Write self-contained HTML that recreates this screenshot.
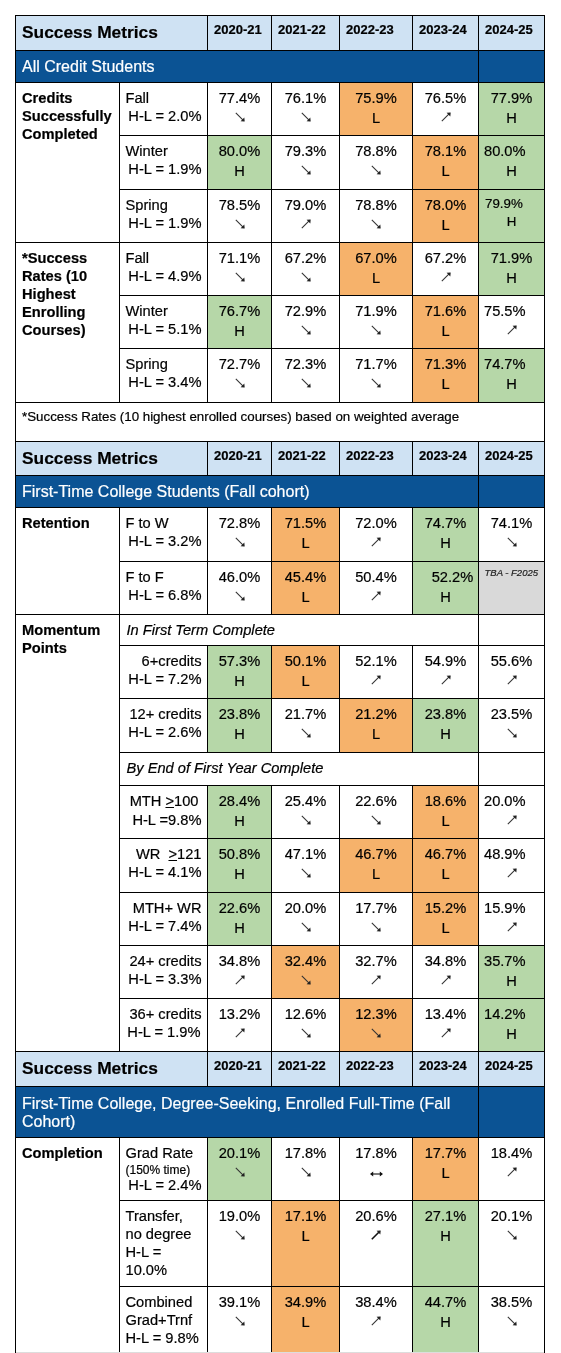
<!DOCTYPE html>
<html><head><meta charset="utf-8"><style>
html,body{margin:0;padding:0;background:#fff;}
body{width:561px;height:1353px;position:relative;overflow:hidden;font-family:'Liberation Sans', sans-serif;color:#000;}
.r{position:absolute;}
.t{position:absolute;white-space:pre;line-height:20px;-webkit-text-stroke:0.2px currentColor;}
#w{position:absolute;left:0;top:0;width:561px;height:1353px;will-change:transform;background:#fff;}
u{text-decoration:underline;}
</style></head><body><div id="w">
<div class="r" style="left:15px;top:15px;width:529px;height:35px;background:#cfe2f3"></div>
<div class="t" style="top:22px;font-size:17.33px;font-weight:bold;left:22px;">Success Metrics</div>
<div class="t" style="top:20px;font-size:13px;font-weight:bold;left:214px;">2020-21</div>
<div class="t" style="top:20px;font-size:13px;font-weight:bold;left:278px;">2021-22</div>
<div class="t" style="top:20px;font-size:13px;font-weight:bold;left:346px;">2022-23</div>
<div class="t" style="top:20px;font-size:13px;font-weight:bold;left:419px;">2023-24</div>
<div class="t" style="top:20px;font-size:13px;font-weight:bold;left:485px;">2024-25</div>
<div class="r" style="left:15px;top:50px;width:529px;height:32px;background:#0b5394"></div>
<div class="t" style="top:57px;font-size:16px;color:#fff;left:22px;">All Credit Students</div>
<div class="r" style="left:340px;top:83px;width:72px;height:52px;background:#f6b26b"></div>
<div class="r" style="left:479px;top:83px;width:65px;height:52px;background:#b6d7a8"></div>
<div class="t" style="top:88px;font-size:14.67px;left:89.5px;width:300px;text-align:center;">77.4%</div>
<svg class="r" style="left:233.5px;top:111.2px" width="12" height="12" viewBox="0 0 12 12"><path d="M1.8 1.8 L9.8 9.8" stroke="#333" stroke-width="1.1" fill="none"/><path d="M10.7 10.6 L6.6 10.2 L8.4 8.4 L10.3 6.5 Z" fill="#222"/></svg>
<div class="t" style="top:88px;font-size:14.67px;left:155.5px;width:300px;text-align:center;">76.1%</div>
<svg class="r" style="left:299.5px;top:111.2px" width="12" height="12" viewBox="0 0 12 12"><path d="M1.8 1.8 L9.8 9.8" stroke="#333" stroke-width="1.1" fill="none"/><path d="M10.7 10.6 L6.6 10.2 L8.4 8.4 L10.3 6.5 Z" fill="#222"/></svg>
<div class="t" style="top:88px;font-size:14.67px;left:226.0px;width:300px;text-align:center;">75.9%</div>
<div class="t" style="top:107.7px;font-size:14.67px;left:226.0px;width:300px;text-align:center;">L</div>
<div class="t" style="top:88px;font-size:14.67px;left:295.5px;width:300px;text-align:center;">76.5%</div>
<svg class="r" style="left:439.5px;top:111.2px" width="12" height="12" viewBox="0 0 12 12"><path d="M1.8 10.2 L9.8 2.2" stroke="#333" stroke-width="1.1" fill="none"/><path d="M10.7 1.4 L6.6 1.8 L10.3 5.5 Z" fill="#222"/></svg>
<div class="t" style="top:88px;font-size:14.67px;left:361.5px;width:300px;text-align:center;">77.9%</div>
<div class="t" style="top:107.7px;font-size:14.67px;left:361.5px;width:300px;text-align:center;">H</div>
<div class="t" style="top:87.5px;font-size:14.67px;left:125.5px;">Fall</div>
<div class="t" style="top:105.5px;font-size:14.67px;left:-98.5px;width:300px;text-align:right;">H-L = 2.0%</div>
<div class="r" style="left:208px;top:136px;width:63px;height:53px;background:#b6d7a8"></div>
<div class="r" style="left:413px;top:136px;width:65px;height:53px;background:#f6b26b"></div>
<div class="r" style="left:479px;top:136px;width:65px;height:53px;background:#b6d7a8"></div>
<div class="t" style="top:141px;font-size:14.67px;left:89.5px;width:300px;text-align:center;">80.0%</div>
<div class="t" style="top:160.7px;font-size:14.67px;left:89.5px;width:300px;text-align:center;">H</div>
<div class="t" style="top:141px;font-size:14.67px;left:155.5px;width:300px;text-align:center;">79.3%</div>
<svg class="r" style="left:299.5px;top:164.2px" width="12" height="12" viewBox="0 0 12 12"><path d="M1.8 1.8 L9.8 9.8" stroke="#333" stroke-width="1.1" fill="none"/><path d="M10.7 10.6 L6.6 10.2 L8.4 8.4 L10.3 6.5 Z" fill="#222"/></svg>
<div class="t" style="top:141px;font-size:14.67px;left:226.0px;width:300px;text-align:center;">78.8%</div>
<svg class="r" style="left:370.0px;top:164.2px" width="12" height="12" viewBox="0 0 12 12"><path d="M1.8 1.8 L9.8 9.8" stroke="#333" stroke-width="1.1" fill="none"/><path d="M10.7 10.6 L6.6 10.2 L8.4 8.4 L10.3 6.5 Z" fill="#222"/></svg>
<div class="t" style="top:141px;font-size:14.67px;left:295.5px;width:300px;text-align:center;">78.1%</div>
<div class="t" style="top:160.7px;font-size:14.67px;left:295.5px;width:300px;text-align:center;">L</div>
<div class="t" style="top:141px;font-size:14.67px;left:484px;">80.0%</div>
<div class="t" style="top:160.7px;font-size:14.67px;left:361.5px;width:300px;text-align:center;">H</div>
<div class="t" style="top:140.5px;font-size:14.67px;left:125.5px;">Winter</div>
<div class="t" style="top:158.5px;font-size:14.67px;left:-98.5px;width:300px;text-align:right;">H-L = 1.9%</div>
<div class="r" style="left:413px;top:190px;width:65px;height:52px;background:#f6b26b"></div>
<div class="r" style="left:479px;top:190px;width:65px;height:52px;background:#b6d7a8"></div>
<div class="t" style="top:195px;font-size:14.67px;left:89.5px;width:300px;text-align:center;">78.5%</div>
<svg class="r" style="left:233.5px;top:218.2px" width="12" height="12" viewBox="0 0 12 12"><path d="M1.8 1.8 L9.8 9.8" stroke="#333" stroke-width="1.1" fill="none"/><path d="M10.7 10.6 L6.6 10.2 L8.4 8.4 L10.3 6.5 Z" fill="#222"/></svg>
<div class="t" style="top:195px;font-size:14.67px;left:155.5px;width:300px;text-align:center;">79.0%</div>
<svg class="r" style="left:299.5px;top:218.2px" width="12" height="12" viewBox="0 0 12 12"><path d="M1.8 10.2 L9.8 2.2" stroke="#333" stroke-width="1.1" fill="none"/><path d="M10.7 1.4 L6.6 1.8 L10.3 5.5 Z" fill="#222"/></svg>
<div class="t" style="top:195px;font-size:14.67px;left:226.0px;width:300px;text-align:center;">78.8%</div>
<svg class="r" style="left:370.0px;top:218.2px" width="12" height="12" viewBox="0 0 12 12"><path d="M1.8 1.8 L9.8 9.8" stroke="#333" stroke-width="1.1" fill="none"/><path d="M10.7 10.6 L6.6 10.2 L8.4 8.4 L10.3 6.5 Z" fill="#222"/></svg>
<div class="t" style="top:195px;font-size:14.67px;left:295.5px;width:300px;text-align:center;">78.0%</div>
<div class="t" style="top:214.7px;font-size:14.67px;left:295.5px;width:300px;text-align:center;">L</div>
<div class="t" style="top:194px;font-size:13.33px;left:485px;">79.9%</div>
<div class="t" style="top:211.7px;font-size:13.33px;left:361.5px;width:300px;text-align:center;">H</div>
<div class="t" style="top:194.5px;font-size:14.67px;left:125.5px;">Spring</div>
<div class="t" style="top:212.5px;font-size:14.67px;left:-98.5px;width:300px;text-align:right;">H-L = 1.9%</div>
<div class="r" style="left:340px;top:243px;width:72px;height:52px;background:#f6b26b"></div>
<div class="r" style="left:479px;top:243px;width:65px;height:52px;background:#b6d7a8"></div>
<div class="t" style="top:248px;font-size:14.67px;left:89.5px;width:300px;text-align:center;">71.1%</div>
<svg class="r" style="left:233.5px;top:271.2px" width="12" height="12" viewBox="0 0 12 12"><path d="M1.8 1.8 L9.8 9.8" stroke="#333" stroke-width="1.1" fill="none"/><path d="M10.7 10.6 L6.6 10.2 L8.4 8.4 L10.3 6.5 Z" fill="#222"/></svg>
<div class="t" style="top:248px;font-size:14.67px;left:155.5px;width:300px;text-align:center;">67.2%</div>
<svg class="r" style="left:299.5px;top:271.2px" width="12" height="12" viewBox="0 0 12 12"><path d="M1.8 1.8 L9.8 9.8" stroke="#333" stroke-width="1.1" fill="none"/><path d="M10.7 10.6 L6.6 10.2 L8.4 8.4 L10.3 6.5 Z" fill="#222"/></svg>
<div class="t" style="top:248px;font-size:14.67px;left:226.0px;width:300px;text-align:center;">67.0%</div>
<div class="t" style="top:267.7px;font-size:14.67px;left:226.0px;width:300px;text-align:center;">L</div>
<div class="t" style="top:248px;font-size:14.67px;left:295.5px;width:300px;text-align:center;">67.2%</div>
<svg class="r" style="left:439.5px;top:271.2px" width="12" height="12" viewBox="0 0 12 12"><path d="M1.8 10.2 L9.8 2.2" stroke="#333" stroke-width="1.1" fill="none"/><path d="M10.7 1.4 L6.6 1.8 L10.3 5.5 Z" fill="#222"/></svg>
<div class="t" style="top:248px;font-size:14.67px;left:361.5px;width:300px;text-align:center;">71.9%</div>
<div class="t" style="top:267.7px;font-size:14.67px;left:361.5px;width:300px;text-align:center;">H</div>
<div class="t" style="top:247.5px;font-size:14.67px;left:125.5px;">Fall</div>
<div class="t" style="top:265.5px;font-size:14.67px;left:-98.5px;width:300px;text-align:right;">H-L = 4.9%</div>
<div class="r" style="left:208px;top:296px;width:63px;height:52px;background:#b6d7a8"></div>
<div class="r" style="left:413px;top:296px;width:65px;height:52px;background:#f6b26b"></div>
<div class="t" style="top:301px;font-size:14.67px;left:89.5px;width:300px;text-align:center;">76.7%</div>
<div class="t" style="top:320.7px;font-size:14.67px;left:89.5px;width:300px;text-align:center;">H</div>
<div class="t" style="top:301px;font-size:14.67px;left:155.5px;width:300px;text-align:center;">72.9%</div>
<svg class="r" style="left:299.5px;top:324.2px" width="12" height="12" viewBox="0 0 12 12"><path d="M1.8 1.8 L9.8 9.8" stroke="#333" stroke-width="1.1" fill="none"/><path d="M10.7 10.6 L6.6 10.2 L8.4 8.4 L10.3 6.5 Z" fill="#222"/></svg>
<div class="t" style="top:301px;font-size:14.67px;left:226.0px;width:300px;text-align:center;">71.9%</div>
<svg class="r" style="left:370.0px;top:324.2px" width="12" height="12" viewBox="0 0 12 12"><path d="M1.8 1.8 L9.8 9.8" stroke="#333" stroke-width="1.1" fill="none"/><path d="M10.7 10.6 L6.6 10.2 L8.4 8.4 L10.3 6.5 Z" fill="#222"/></svg>
<div class="t" style="top:301px;font-size:14.67px;left:295.5px;width:300px;text-align:center;">71.6%</div>
<div class="t" style="top:320.7px;font-size:14.67px;left:295.5px;width:300px;text-align:center;">L</div>
<div class="t" style="top:301px;font-size:14.67px;left:484px;">75.5%</div>
<svg class="r" style="left:505.5px;top:324.2px" width="12" height="12" viewBox="0 0 12 12"><path d="M1.8 10.2 L9.8 2.2" stroke="#333" stroke-width="1.1" fill="none"/><path d="M10.7 1.4 L6.6 1.8 L10.3 5.5 Z" fill="#222"/></svg>
<div class="t" style="top:300.5px;font-size:14.67px;left:125.5px;">Winter</div>
<div class="t" style="top:318.5px;font-size:14.67px;left:-98.5px;width:300px;text-align:right;">H-L = 5.1%</div>
<div class="r" style="left:413px;top:349px;width:65px;height:53px;background:#f6b26b"></div>
<div class="r" style="left:479px;top:349px;width:65px;height:53px;background:#b6d7a8"></div>
<div class="t" style="top:354px;font-size:14.67px;left:89.5px;width:300px;text-align:center;">72.7%</div>
<svg class="r" style="left:233.5px;top:377.2px" width="12" height="12" viewBox="0 0 12 12"><path d="M1.8 1.8 L9.8 9.8" stroke="#333" stroke-width="1.1" fill="none"/><path d="M10.7 10.6 L6.6 10.2 L8.4 8.4 L10.3 6.5 Z" fill="#222"/></svg>
<div class="t" style="top:354px;font-size:14.67px;left:155.5px;width:300px;text-align:center;">72.3%</div>
<svg class="r" style="left:299.5px;top:377.2px" width="12" height="12" viewBox="0 0 12 12"><path d="M1.8 1.8 L9.8 9.8" stroke="#333" stroke-width="1.1" fill="none"/><path d="M10.7 10.6 L6.6 10.2 L8.4 8.4 L10.3 6.5 Z" fill="#222"/></svg>
<div class="t" style="top:354px;font-size:14.67px;left:226.0px;width:300px;text-align:center;">71.7%</div>
<svg class="r" style="left:370.0px;top:377.2px" width="12" height="12" viewBox="0 0 12 12"><path d="M1.8 1.8 L9.8 9.8" stroke="#333" stroke-width="1.1" fill="none"/><path d="M10.7 10.6 L6.6 10.2 L8.4 8.4 L10.3 6.5 Z" fill="#222"/></svg>
<div class="t" style="top:354px;font-size:14.67px;left:295.5px;width:300px;text-align:center;">71.3%</div>
<div class="t" style="top:373.7px;font-size:14.67px;left:295.5px;width:300px;text-align:center;">L</div>
<div class="t" style="top:354px;font-size:14.67px;left:484px;">74.7%</div>
<div class="t" style="top:373.7px;font-size:14.67px;left:361.5px;width:300px;text-align:center;">H</div>
<div class="t" style="top:353.5px;font-size:14.67px;left:125.5px;">Spring</div>
<div class="t" style="top:371.5px;font-size:14.67px;left:-98.5px;width:300px;text-align:right;">H-L = 3.4%</div>
<div class="t" style="top:87.5px;font-size:14.67px;font-weight:bold;left:22px;">Credits</div>
<div class="t" style="top:105.5px;font-size:14.67px;font-weight:bold;left:22px;">Successfully</div>
<div class="t" style="top:123.5px;font-size:14.67px;font-weight:bold;left:22px;">Completed</div>
<div class="t" style="top:247.5px;font-size:14.67px;font-weight:bold;left:22px;">*Success</div>
<div class="t" style="top:265.5px;font-size:14.67px;font-weight:bold;left:22px;">Rates (10</div>
<div class="t" style="top:283.5px;font-size:14.67px;font-weight:bold;left:22px;">Highest</div>
<div class="t" style="top:301.5px;font-size:14.67px;font-weight:bold;left:22px;">Enrolling</div>
<div class="t" style="top:319.5px;font-size:14.67px;font-weight:bold;left:22px;">Courses)</div>
<div class="t" style="top:407px;font-size:13.33px;left:22px;">*Success Rates (10 highest enrolled courses) based on weighted average</div>
<div class="r" style="left:15px;top:441px;width:529px;height:34px;background:#cfe2f3"></div>
<div class="t" style="top:448px;font-size:17.33px;font-weight:bold;left:22px;">Success Metrics</div>
<div class="t" style="top:446px;font-size:13px;font-weight:bold;left:214px;">2020-21</div>
<div class="t" style="top:446px;font-size:13px;font-weight:bold;left:278px;">2021-22</div>
<div class="t" style="top:446px;font-size:13px;font-weight:bold;left:346px;">2022-23</div>
<div class="t" style="top:446px;font-size:13px;font-weight:bold;left:419px;">2023-24</div>
<div class="t" style="top:446px;font-size:13px;font-weight:bold;left:485px;">2024-25</div>
<div class="r" style="left:15px;top:475px;width:529px;height:32px;background:#0b5394"></div>
<div class="t" style="top:482px;font-size:16px;color:#fff;left:22px;">First-Time College Students (Fall cohort)</div>
<div class="r" style="left:272px;top:508px;width:67px;height:53px;background:#f6b26b"></div>
<div class="r" style="left:413px;top:508px;width:65px;height:53px;background:#b6d7a8"></div>
<div class="t" style="top:513px;font-size:14.67px;left:89.5px;width:300px;text-align:center;">72.8%</div>
<svg class="r" style="left:233.5px;top:536.2px" width="12" height="12" viewBox="0 0 12 12"><path d="M1.8 1.8 L9.8 9.8" stroke="#333" stroke-width="1.1" fill="none"/><path d="M10.7 10.6 L6.6 10.2 L8.4 8.4 L10.3 6.5 Z" fill="#222"/></svg>
<div class="t" style="top:513px;font-size:14.67px;left:155.5px;width:300px;text-align:center;">71.5%</div>
<div class="t" style="top:532.7px;font-size:14.67px;left:155.5px;width:300px;text-align:center;">L</div>
<div class="t" style="top:513px;font-size:14.67px;left:226.0px;width:300px;text-align:center;">72.0%</div>
<svg class="r" style="left:370.0px;top:536.2px" width="12" height="12" viewBox="0 0 12 12"><path d="M1.8 10.2 L9.8 2.2" stroke="#333" stroke-width="1.1" fill="none"/><path d="M10.7 1.4 L6.6 1.8 L10.3 5.5 Z" fill="#222"/></svg>
<div class="t" style="top:513px;font-size:14.67px;left:295.5px;width:300px;text-align:center;">74.7%</div>
<div class="t" style="top:532.7px;font-size:14.67px;left:295.5px;width:300px;text-align:center;">H</div>
<div class="t" style="top:513px;font-size:14.67px;left:361.5px;width:300px;text-align:center;">74.1%</div>
<svg class="r" style="left:505.5px;top:536.2px" width="12" height="12" viewBox="0 0 12 12"><path d="M1.8 1.8 L9.8 9.8" stroke="#333" stroke-width="1.1" fill="none"/><path d="M10.7 10.6 L6.6 10.2 L8.4 8.4 L10.3 6.5 Z" fill="#222"/></svg>
<div class="t" style="top:512.5px;font-size:14.67px;left:125.5px;">F to W</div>
<div class="t" style="top:530.5px;font-size:14.67px;left:-98.5px;width:300px;text-align:right;">H-L = 3.2%</div>
<div class="r" style="left:272px;top:562px;width:67px;height:52px;background:#f6b26b"></div>
<div class="r" style="left:413px;top:562px;width:65px;height:52px;background:#b6d7a8"></div>
<div class="r" style="left:479px;top:562px;width:65px;height:52px;background:#d9d9d9"></div>
<div class="t" style="top:567px;font-size:14.67px;left:89.5px;width:300px;text-align:center;">46.0%</div>
<svg class="r" style="left:233.5px;top:590.2px" width="12" height="12" viewBox="0 0 12 12"><path d="M1.8 1.8 L9.8 9.8" stroke="#333" stroke-width="1.1" fill="none"/><path d="M10.7 10.6 L6.6 10.2 L8.4 8.4 L10.3 6.5 Z" fill="#222"/></svg>
<div class="t" style="top:567px;font-size:14.67px;left:155.5px;width:300px;text-align:center;">45.4%</div>
<div class="t" style="top:586.7px;font-size:14.67px;left:155.5px;width:300px;text-align:center;">L</div>
<div class="t" style="top:567px;font-size:14.67px;left:226.0px;width:300px;text-align:center;">50.4%</div>
<svg class="r" style="left:370.0px;top:590.2px" width="12" height="12" viewBox="0 0 12 12"><path d="M1.8 10.2 L9.8 2.2" stroke="#333" stroke-width="1.1" fill="none"/><path d="M10.7 1.4 L6.6 1.8 L10.3 5.5 Z" fill="#222"/></svg>
<div class="t" style="top:567px;font-size:14.67px;left:302.5px;width:300px;text-align:center;">52.2%</div>
<div class="t" style="top:586.7px;font-size:14.67px;left:295.5px;width:300px;text-align:center;">H</div>
<div class="t" style="top:566.5px;font-size:14.67px;left:125.5px;">F to F</div>
<div class="t" style="top:584.5px;font-size:14.67px;left:-98.5px;width:300px;text-align:right;">H-L = 6.8%</div>
<div class="t" style="top:563px;font-size:9.5px;font-style:italic;color:#222;left:484.5px;">TBA - F2025</div>
<div class="t" style="top:512.5px;font-size:14.67px;font-weight:bold;left:22px;">Retention</div>
<div class="t" style="top:619.5px;font-size:14.67px;font-weight:bold;left:22px;">Momentum</div>
<div class="t" style="top:637.5px;font-size:14.67px;font-weight:bold;left:22px;">Points</div>
<div class="t" style="top:619.5px;font-size:14.67px;font-style:italic;left:126.5px;">In First Term Complete</div>
<div class="r" style="left:208px;top:646px;width:63px;height:52px;background:#b6d7a8"></div>
<div class="r" style="left:272px;top:646px;width:67px;height:52px;background:#f6b26b"></div>
<div class="t" style="top:651px;font-size:14.67px;left:89.5px;width:300px;text-align:center;">57.3%</div>
<div class="t" style="top:670.7px;font-size:14.67px;left:89.5px;width:300px;text-align:center;">H</div>
<div class="t" style="top:651px;font-size:14.67px;left:155.5px;width:300px;text-align:center;">50.1%</div>
<div class="t" style="top:670.7px;font-size:14.67px;left:155.5px;width:300px;text-align:center;">L</div>
<div class="t" style="top:651px;font-size:14.67px;left:226.0px;width:300px;text-align:center;">52.1%</div>
<svg class="r" style="left:370.0px;top:674.2px" width="12" height="12" viewBox="0 0 12 12"><path d="M1.8 10.2 L9.8 2.2" stroke="#333" stroke-width="1.1" fill="none"/><path d="M10.7 1.4 L6.6 1.8 L10.3 5.5 Z" fill="#222"/></svg>
<div class="t" style="top:651px;font-size:14.67px;left:295.5px;width:300px;text-align:center;">54.9%</div>
<svg class="r" style="left:439.5px;top:674.2px" width="12" height="12" viewBox="0 0 12 12"><path d="M1.8 10.2 L9.8 2.2" stroke="#333" stroke-width="1.1" fill="none"/><path d="M10.7 1.4 L6.6 1.8 L10.3 5.5 Z" fill="#222"/></svg>
<div class="t" style="top:651px;font-size:14.67px;left:361.5px;width:300px;text-align:center;">55.6%</div>
<svg class="r" style="left:505.5px;top:674.2px" width="12" height="12" viewBox="0 0 12 12"><path d="M1.8 10.2 L9.8 2.2" stroke="#333" stroke-width="1.1" fill="none"/><path d="M10.7 1.4 L6.6 1.8 L10.3 5.5 Z" fill="#222"/></svg>
<div class="t" style="top:650.5px;font-size:14.67px;left:-98.5px;width:300px;text-align:right;">6+credits</div>
<div class="t" style="top:668.5px;font-size:14.67px;left:-98.5px;width:300px;text-align:right;">H-L = 7.2%</div>
<div class="r" style="left:208px;top:699px;width:63px;height:53px;background:#b6d7a8"></div>
<div class="r" style="left:340px;top:699px;width:72px;height:53px;background:#f6b26b"></div>
<div class="r" style="left:413px;top:699px;width:65px;height:53px;background:#b6d7a8"></div>
<div class="t" style="top:704px;font-size:14.67px;left:89.5px;width:300px;text-align:center;">23.8%</div>
<div class="t" style="top:723.7px;font-size:14.67px;left:89.5px;width:300px;text-align:center;">H</div>
<div class="t" style="top:704px;font-size:14.67px;left:155.5px;width:300px;text-align:center;">21.7%</div>
<svg class="r" style="left:299.5px;top:727.2px" width="12" height="12" viewBox="0 0 12 12"><path d="M1.8 1.8 L9.8 9.8" stroke="#333" stroke-width="1.1" fill="none"/><path d="M10.7 10.6 L6.6 10.2 L8.4 8.4 L10.3 6.5 Z" fill="#222"/></svg>
<div class="t" style="top:704px;font-size:14.67px;left:226.0px;width:300px;text-align:center;">21.2%</div>
<div class="t" style="top:723.7px;font-size:14.67px;left:226.0px;width:300px;text-align:center;">L</div>
<div class="t" style="top:704px;font-size:14.67px;left:295.5px;width:300px;text-align:center;">23.8%</div>
<div class="t" style="top:723.7px;font-size:14.67px;left:295.5px;width:300px;text-align:center;">H</div>
<div class="t" style="top:704px;font-size:14.67px;left:361.5px;width:300px;text-align:center;">23.5%</div>
<svg class="r" style="left:505.5px;top:727.2px" width="12" height="12" viewBox="0 0 12 12"><path d="M1.8 1.8 L9.8 9.8" stroke="#333" stroke-width="1.1" fill="none"/><path d="M10.7 10.6 L6.6 10.2 L8.4 8.4 L10.3 6.5 Z" fill="#222"/></svg>
<div class="t" style="top:703.5px;font-size:14.67px;left:-98.5px;width:300px;text-align:right;">12+ credits</div>
<div class="t" style="top:721.5px;font-size:14.67px;left:-98.5px;width:300px;text-align:right;">H-L = 2.6%</div>
<div class="t" style="top:757.5px;font-size:14.67px;font-style:italic;left:126.5px;">By End of First Year Complete</div>
<div class="r" style="left:208px;top:786px;width:63px;height:52px;background:#b6d7a8"></div>
<div class="r" style="left:413px;top:786px;width:65px;height:52px;background:#f6b26b"></div>
<div class="t" style="top:791px;font-size:14.67px;left:89.5px;width:300px;text-align:center;">28.4%</div>
<div class="t" style="top:810.7px;font-size:14.67px;left:89.5px;width:300px;text-align:center;">H</div>
<div class="t" style="top:791px;font-size:14.67px;left:155.5px;width:300px;text-align:center;">25.4%</div>
<svg class="r" style="left:299.5px;top:814.2px" width="12" height="12" viewBox="0 0 12 12"><path d="M1.8 1.8 L9.8 9.8" stroke="#333" stroke-width="1.1" fill="none"/><path d="M10.7 10.6 L6.6 10.2 L8.4 8.4 L10.3 6.5 Z" fill="#222"/></svg>
<div class="t" style="top:791px;font-size:14.67px;left:226.0px;width:300px;text-align:center;">22.6%</div>
<svg class="r" style="left:370.0px;top:814.2px" width="12" height="12" viewBox="0 0 12 12"><path d="M1.8 1.8 L9.8 9.8" stroke="#333" stroke-width="1.1" fill="none"/><path d="M10.7 10.6 L6.6 10.2 L8.4 8.4 L10.3 6.5 Z" fill="#222"/></svg>
<div class="t" style="top:791px;font-size:14.67px;left:295.5px;width:300px;text-align:center;">18.6%</div>
<div class="t" style="top:810.7px;font-size:14.67px;left:295.5px;width:300px;text-align:center;">L</div>
<div class="t" style="top:791px;font-size:14.67px;left:484px;">20.0%</div>
<svg class="r" style="left:505.5px;top:814.2px" width="12" height="12" viewBox="0 0 12 12"><path d="M1.8 10.2 L9.8 2.2" stroke="#333" stroke-width="1.1" fill="none"/><path d="M10.7 1.4 L6.6 1.8 L10.3 5.5 Z" fill="#222"/></svg>
<div class="t" style="top:790.5px;font-size:14.67px;left:-101.5px;width:300px;text-align:right;">MTH <u>&gt;</u>100</div>
<div class="t" style="top:810px;font-size:14.67px;left:-98.5px;width:300px;text-align:right;">H-L =9.8%</div>
<div class="r" style="left:208px;top:839px;width:63px;height:53px;background:#b6d7a8"></div>
<div class="r" style="left:340px;top:839px;width:72px;height:53px;background:#f6b26b"></div>
<div class="r" style="left:413px;top:839px;width:65px;height:53px;background:#f6b26b"></div>
<div class="t" style="top:844px;font-size:14.67px;left:89.5px;width:300px;text-align:center;">50.8%</div>
<div class="t" style="top:863.7px;font-size:14.67px;left:89.5px;width:300px;text-align:center;">H</div>
<div class="t" style="top:844px;font-size:14.67px;left:155.5px;width:300px;text-align:center;">47.1%</div>
<svg class="r" style="left:299.5px;top:867.2px" width="12" height="12" viewBox="0 0 12 12"><path d="M1.8 1.8 L9.8 9.8" stroke="#333" stroke-width="1.1" fill="none"/><path d="M10.7 10.6 L6.6 10.2 L8.4 8.4 L10.3 6.5 Z" fill="#222"/></svg>
<div class="t" style="top:844px;font-size:14.67px;left:226.0px;width:300px;text-align:center;">46.7%</div>
<div class="t" style="top:863.7px;font-size:14.67px;left:226.0px;width:300px;text-align:center;">L</div>
<div class="t" style="top:844px;font-size:14.67px;left:295.5px;width:300px;text-align:center;">46.7%</div>
<div class="t" style="top:863.7px;font-size:14.67px;left:295.5px;width:300px;text-align:center;">L</div>
<div class="t" style="top:844px;font-size:14.67px;left:484px;">48.9%</div>
<svg class="r" style="left:505.5px;top:867.2px" width="12" height="12" viewBox="0 0 12 12"><path d="M1.8 10.2 L9.8 2.2" stroke="#333" stroke-width="1.1" fill="none"/><path d="M10.7 1.4 L6.6 1.8 L10.3 5.5 Z" fill="#222"/></svg>
<div class="t" style="top:843.5px;font-size:14.67px;left:-98.5px;width:300px;text-align:right;">WR &nbsp;<u>&gt;</u>121</div>
<div class="t" style="top:861.5px;font-size:14.67px;left:-98.5px;width:300px;text-align:right;">H-L = 4.1%</div>
<div class="r" style="left:208px;top:893px;width:63px;height:52px;background:#b6d7a8"></div>
<div class="r" style="left:413px;top:893px;width:65px;height:52px;background:#f6b26b"></div>
<div class="t" style="top:898px;font-size:14.67px;left:89.5px;width:300px;text-align:center;">22.6%</div>
<div class="t" style="top:917.7px;font-size:14.67px;left:89.5px;width:300px;text-align:center;">H</div>
<div class="t" style="top:898px;font-size:14.67px;left:155.5px;width:300px;text-align:center;">20.0%</div>
<svg class="r" style="left:299.5px;top:921.2px" width="12" height="12" viewBox="0 0 12 12"><path d="M1.8 1.8 L9.8 9.8" stroke="#333" stroke-width="1.1" fill="none"/><path d="M10.7 10.6 L6.6 10.2 L8.4 8.4 L10.3 6.5 Z" fill="#222"/></svg>
<div class="t" style="top:898px;font-size:14.67px;left:226.0px;width:300px;text-align:center;">17.7%</div>
<svg class="r" style="left:370.0px;top:921.2px" width="12" height="12" viewBox="0 0 12 12"><path d="M1.8 1.8 L9.8 9.8" stroke="#333" stroke-width="1.1" fill="none"/><path d="M10.7 10.6 L6.6 10.2 L8.4 8.4 L10.3 6.5 Z" fill="#222"/></svg>
<div class="t" style="top:898px;font-size:14.67px;left:295.5px;width:300px;text-align:center;">15.2%</div>
<div class="t" style="top:917.7px;font-size:14.67px;left:295.5px;width:300px;text-align:center;">L</div>
<div class="t" style="top:898px;font-size:14.67px;left:484px;">15.9%</div>
<svg class="r" style="left:505.5px;top:921.2px" width="12" height="12" viewBox="0 0 12 12"><path d="M1.8 10.2 L9.8 2.2" stroke="#333" stroke-width="1.1" fill="none"/><path d="M10.7 1.4 L6.6 1.8 L10.3 5.5 Z" fill="#222"/></svg>
<div class="t" style="top:897.5px;font-size:14.67px;left:-98.5px;width:300px;text-align:right;">MTH+ WR</div>
<div class="t" style="top:915.5px;font-size:14.67px;left:-98.5px;width:300px;text-align:right;">H-L = 7.4%</div>
<div class="r" style="left:272px;top:946px;width:67px;height:52px;background:#f6b26b"></div>
<div class="r" style="left:479px;top:946px;width:65px;height:52px;background:#b6d7a8"></div>
<div class="t" style="top:951px;font-size:14.67px;left:89.5px;width:300px;text-align:center;">34.8%</div>
<svg class="r" style="left:233.5px;top:974.2px" width="12" height="12" viewBox="0 0 12 12"><path d="M1.8 10.2 L9.8 2.2" stroke="#333" stroke-width="1.1" fill="none"/><path d="M10.7 1.4 L6.6 1.8 L10.3 5.5 Z" fill="#222"/></svg>
<div class="t" style="top:951px;font-size:14.67px;left:155.5px;width:300px;text-align:center;">32.4%</div>
<svg class="r" style="left:299.5px;top:974.2px" width="12" height="12" viewBox="0 0 12 12"><path d="M1.8 1.8 L9.8 9.8" stroke="#333" stroke-width="1.1" fill="none"/><path d="M10.7 10.6 L6.6 10.2 L8.4 8.4 L10.3 6.5 Z" fill="#222"/></svg>
<div class="t" style="top:951px;font-size:14.67px;left:226.0px;width:300px;text-align:center;">32.7%</div>
<svg class="r" style="left:370.0px;top:974.2px" width="12" height="12" viewBox="0 0 12 12"><path d="M1.8 10.2 L9.8 2.2" stroke="#333" stroke-width="1.1" fill="none"/><path d="M10.7 1.4 L6.6 1.8 L10.3 5.5 Z" fill="#222"/></svg>
<div class="t" style="top:951px;font-size:14.67px;left:295.5px;width:300px;text-align:center;">34.8%</div>
<svg class="r" style="left:439.5px;top:974.2px" width="12" height="12" viewBox="0 0 12 12"><path d="M1.8 10.2 L9.8 2.2" stroke="#333" stroke-width="1.1" fill="none"/><path d="M10.7 1.4 L6.6 1.8 L10.3 5.5 Z" fill="#222"/></svg>
<div class="t" style="top:951px;font-size:14.67px;left:484px;">35.7%</div>
<div class="t" style="top:970.7px;font-size:14.67px;left:361.5px;width:300px;text-align:center;">H</div>
<div class="t" style="top:950.5px;font-size:14.67px;left:-98.5px;width:300px;text-align:right;">24+ credits</div>
<div class="t" style="top:968.5px;font-size:14.67px;left:-98.5px;width:300px;text-align:right;">H-L = 3.3%</div>
<div class="r" style="left:340px;top:999px;width:72px;height:52px;background:#f6b26b"></div>
<div class="r" style="left:479px;top:999px;width:65px;height:52px;background:#b6d7a8"></div>
<div class="t" style="top:1004px;font-size:14.67px;left:89.5px;width:300px;text-align:center;">13.2%</div>
<svg class="r" style="left:233.5px;top:1027.2px" width="12" height="12" viewBox="0 0 12 12"><path d="M1.8 10.2 L9.8 2.2" stroke="#333" stroke-width="1.1" fill="none"/><path d="M10.7 1.4 L6.6 1.8 L10.3 5.5 Z" fill="#222"/></svg>
<div class="t" style="top:1004px;font-size:14.67px;left:155.5px;width:300px;text-align:center;">12.6%</div>
<svg class="r" style="left:299.5px;top:1027.2px" width="12" height="12" viewBox="0 0 12 12"><path d="M1.8 1.8 L9.8 9.8" stroke="#333" stroke-width="1.1" fill="none"/><path d="M10.7 10.6 L6.6 10.2 L8.4 8.4 L10.3 6.5 Z" fill="#222"/></svg>
<div class="t" style="top:1004px;font-size:14.67px;left:226.0px;width:300px;text-align:center;">12.3%</div>
<svg class="r" style="left:370.0px;top:1027.2px" width="12" height="12" viewBox="0 0 12 12"><path d="M1.8 1.8 L9.8 9.8" stroke="#333" stroke-width="1.1" fill="none"/><path d="M10.7 10.6 L6.6 10.2 L8.4 8.4 L10.3 6.5 Z" fill="#222"/></svg>
<div class="t" style="top:1004px;font-size:14.67px;left:295.5px;width:300px;text-align:center;">13.4%</div>
<svg class="r" style="left:439.5px;top:1027.2px" width="12" height="12" viewBox="0 0 12 12"><path d="M1.8 10.2 L9.8 2.2" stroke="#333" stroke-width="1.1" fill="none"/><path d="M10.7 1.4 L6.6 1.8 L10.3 5.5 Z" fill="#222"/></svg>
<div class="t" style="top:1004px;font-size:14.67px;left:484px;">14.2%</div>
<div class="t" style="top:1023.7px;font-size:14.67px;left:361.5px;width:300px;text-align:center;">H</div>
<div class="t" style="top:1003.5px;font-size:14.67px;left:-98.5px;width:300px;text-align:right;">36+ credits</div>
<div class="t" style="top:1021.5px;font-size:14.67px;left:-99.5px;width:300px;text-align:right;">H-L = 1.9%</div>
<div class="r" style="left:15px;top:1051px;width:529px;height:35px;background:#cfe2f3"></div>
<div class="t" style="top:1058px;font-size:17.33px;font-weight:bold;left:22px;">Success Metrics</div>
<div class="t" style="top:1056px;font-size:13px;font-weight:bold;left:214px;">2020-21</div>
<div class="t" style="top:1056px;font-size:13px;font-weight:bold;left:278px;">2021-22</div>
<div class="t" style="top:1056px;font-size:13px;font-weight:bold;left:346px;">2022-23</div>
<div class="t" style="top:1056px;font-size:13px;font-weight:bold;left:419px;">2023-24</div>
<div class="t" style="top:1056px;font-size:13px;font-weight:bold;left:485px;">2024-25</div>
<div class="r" style="left:15px;top:1086px;width:529px;height:51px;background:#0b5394"></div>
<div class="t" style="top:1094px;font-size:16px;color:#fff;left:22px;">First-Time College, Degree-Seeking, Enrolled Full-Time (Fall</div>
<div class="t" style="top:1112px;font-size:16px;color:#fff;left:22px;">Cohort)</div>
<div class="r" style="left:208px;top:1138px;width:63px;height:62px;background:#b6d7a8"></div>
<div class="r" style="left:413px;top:1138px;width:65px;height:62px;background:#f6b26b"></div>
<div class="t" style="top:1143px;font-size:14.67px;left:89.5px;width:300px;text-align:center;">20.1%</div>
<svg class="r" style="left:233.5px;top:1166.2px" width="12" height="12" viewBox="0 0 12 12"><path d="M1.8 1.8 L9.8 9.8" stroke="#333" stroke-width="1.1" fill="none"/><path d="M10.7 10.6 L6.6 10.2 L8.4 8.4 L10.3 6.5 Z" fill="#222"/></svg>
<div class="t" style="top:1143px;font-size:14.67px;left:155.5px;width:300px;text-align:center;">17.8%</div>
<svg class="r" style="left:299.5px;top:1166.2px" width="12" height="12" viewBox="0 0 12 12"><path d="M1.8 1.8 L9.8 9.8" stroke="#333" stroke-width="1.1" fill="none"/><path d="M10.7 10.6 L6.6 10.2 L8.4 8.4 L10.3 6.5 Z" fill="#222"/></svg>
<div class="t" style="top:1143px;font-size:14.67px;left:226.0px;width:300px;text-align:center;">17.8%</div>
<svg class="r" style="left:368.5px;top:1169.7px" width="15" height="8" viewBox="0 0 15 8"><path d="M2 4 L13 4" stroke="#222" stroke-width="1.2"/><path d="M1 4 L4.2 1.6 L4.2 6.4 Z M14 4 L10.8 1.6 L10.8 6.4 Z" fill="#111"/></svg>
<div class="t" style="top:1143px;font-size:14.67px;left:295.5px;width:300px;text-align:center;">17.7%</div>
<div class="t" style="top:1162.7px;font-size:14.67px;left:295.5px;width:300px;text-align:center;">L</div>
<div class="t" style="top:1143px;font-size:14.67px;left:361.5px;width:300px;text-align:center;">18.4%</div>
<svg class="r" style="left:505.5px;top:1166.2px" width="12" height="12" viewBox="0 0 12 12"><path d="M1.8 10.2 L9.8 2.2" stroke="#333" stroke-width="1.1" fill="none"/><path d="M10.7 1.4 L6.6 1.8 L10.3 5.5 Z" fill="#222"/></svg>
<div class="r" style="left:272px;top:1201px;width:67px;height:85px;background:#f6b26b"></div>
<div class="r" style="left:413px;top:1201px;width:65px;height:85px;background:#b6d7a8"></div>
<div class="t" style="top:1206px;font-size:14.67px;left:89.5px;width:300px;text-align:center;">19.0%</div>
<svg class="r" style="left:233.5px;top:1229.2px" width="12" height="12" viewBox="0 0 12 12"><path d="M1.8 1.8 L9.8 9.8" stroke="#333" stroke-width="1.1" fill="none"/><path d="M10.7 10.6 L6.6 10.2 L8.4 8.4 L10.3 6.5 Z" fill="#222"/></svg>
<div class="t" style="top:1206px;font-size:14.67px;left:155.5px;width:300px;text-align:center;">17.1%</div>
<div class="t" style="top:1225.7px;font-size:14.67px;left:155.5px;width:300px;text-align:center;">L</div>
<div class="t" style="top:1206px;font-size:14.67px;left:226.0px;width:300px;text-align:center;">20.6%</div>
<svg class="r" style="left:370.0px;top:1229.2px" width="12" height="12" viewBox="0 0 12 12"><path d="M1.8 10.2 L9.8 2.2" stroke="#111" stroke-width="1.6" fill="none"/><path d="M10.7 1.4 L6.6 1.8 L10.3 5.5 Z" fill="#222"/></svg>
<div class="t" style="top:1206px;font-size:14.67px;left:295.5px;width:300px;text-align:center;">27.1%</div>
<div class="t" style="top:1225.7px;font-size:14.67px;left:295.5px;width:300px;text-align:center;">H</div>
<div class="t" style="top:1206px;font-size:14.67px;left:361.5px;width:300px;text-align:center;">20.1%</div>
<svg class="r" style="left:505.5px;top:1229.2px" width="12" height="12" viewBox="0 0 12 12"><path d="M1.8 1.8 L9.8 9.8" stroke="#333" stroke-width="1.1" fill="none"/><path d="M10.7 10.6 L6.6 10.2 L8.4 8.4 L10.3 6.5 Z" fill="#222"/></svg>
<div class="r" style="left:272px;top:1287px;width:67px;height:66px;background:#f6b26b"></div>
<div class="r" style="left:413px;top:1287px;width:65px;height:66px;background:#b6d7a8"></div>
<div class="t" style="top:1292px;font-size:14.67px;left:89.5px;width:300px;text-align:center;">39.1%</div>
<svg class="r" style="left:233.5px;top:1315.2px" width="12" height="12" viewBox="0 0 12 12"><path d="M1.8 1.8 L9.8 9.8" stroke="#333" stroke-width="1.1" fill="none"/><path d="M10.7 10.6 L6.6 10.2 L8.4 8.4 L10.3 6.5 Z" fill="#222"/></svg>
<div class="t" style="top:1292px;font-size:14.67px;left:155.5px;width:300px;text-align:center;">34.9%</div>
<div class="t" style="top:1311.7px;font-size:14.67px;left:155.5px;width:300px;text-align:center;">L</div>
<div class="t" style="top:1292px;font-size:14.67px;left:226.0px;width:300px;text-align:center;">38.4%</div>
<svg class="r" style="left:370.0px;top:1315.2px" width="12" height="12" viewBox="0 0 12 12"><path d="M1.8 10.2 L9.8 2.2" stroke="#333" stroke-width="1.1" fill="none"/><path d="M10.7 1.4 L6.6 1.8 L10.3 5.5 Z" fill="#222"/></svg>
<div class="t" style="top:1292px;font-size:14.67px;left:295.5px;width:300px;text-align:center;">44.7%</div>
<div class="t" style="top:1311.7px;font-size:14.67px;left:295.5px;width:300px;text-align:center;">H</div>
<div class="t" style="top:1292px;font-size:14.67px;left:361.5px;width:300px;text-align:center;">38.5%</div>
<svg class="r" style="left:505.5px;top:1315.2px" width="12" height="12" viewBox="0 0 12 12"><path d="M1.8 1.8 L9.8 9.8" stroke="#333" stroke-width="1.1" fill="none"/><path d="M10.7 10.6 L6.6 10.2 L8.4 8.4 L10.3 6.5 Z" fill="#222"/></svg>
<div class="t" style="top:1142.5px;font-size:14.67px;font-weight:bold;left:22px;">Completion</div>
<div class="t" style="top:1142.5px;font-size:14.67px;left:125.5px;">Grad Rate</div>
<div class="t" style="top:1159.5px;font-size:12px;left:125.5px;">(150% time)</div>
<div class="t" style="top:1175px;font-size:14.67px;left:-98.5px;width:300px;text-align:right;">H-L = 2.4%</div>
<div class="t" style="top:1206px;font-size:14.67px;left:125.5px;">Transfer,</div>
<div class="t" style="top:1224px;font-size:14.67px;left:125.5px;">no degree</div>
<div class="t" style="top:1242px;font-size:14.67px;left:125.5px;">H-L =</div>
<div class="t" style="top:1260px;font-size:14.67px;left:125.5px;">10.0%</div>
<div class="t" style="top:1291.5px;font-size:14.67px;left:125.5px;">Combined</div>
<div class="t" style="top:1309.5px;font-size:14.67px;left:125.5px;">Grad+Trnf</div>
<div class="t" style="top:1327.5px;font-size:14.67px;left:125.5px;">H-L = 9.8%</div>
<div class="r" style="left:15px;top:15px;width:1px;height:1339px;background:#000"></div>
<div class="r" style="left:544px;top:15px;width:1px;height:1339px;background:#000"></div>
<div class="r" style="left:15px;top:15px;width:530px;height:1px;background:#000"></div>
<div class="r" style="left:15px;top:50px;width:530px;height:1px;background:#000"></div>
<div class="r" style="left:15px;top:82px;width:530px;height:1px;background:#000"></div>
<div class="r" style="left:15px;top:402px;width:530px;height:1px;background:#000"></div>
<div class="r" style="left:15px;top:441px;width:530px;height:1px;background:#000"></div>
<div class="r" style="left:15px;top:475px;width:530px;height:1px;background:#000"></div>
<div class="r" style="left:15px;top:507px;width:530px;height:1px;background:#000"></div>
<div class="r" style="left:15px;top:614px;width:530px;height:1px;background:#000"></div>
<div class="r" style="left:15px;top:1051px;width:530px;height:1px;background:#000"></div>
<div class="r" style="left:15px;top:1086px;width:530px;height:1px;background:#000"></div>
<div class="r" style="left:15px;top:1137px;width:530px;height:1px;background:#000"></div>
<div class="r" style="left:15px;top:242px;width:530px;height:1px;background:#000"></div>
<div class="r" style="left:119px;top:135px;width:426px;height:1px;background:#000"></div>
<div class="r" style="left:119px;top:189px;width:426px;height:1px;background:#000"></div>
<div class="r" style="left:119px;top:295px;width:426px;height:1px;background:#000"></div>
<div class="r" style="left:119px;top:348px;width:426px;height:1px;background:#000"></div>
<div class="r" style="left:119px;top:561px;width:426px;height:1px;background:#000"></div>
<div class="r" style="left:119px;top:645px;width:426px;height:1px;background:#000"></div>
<div class="r" style="left:119px;top:698px;width:426px;height:1px;background:#000"></div>
<div class="r" style="left:119px;top:752px;width:426px;height:1px;background:#000"></div>
<div class="r" style="left:119px;top:785px;width:426px;height:1px;background:#000"></div>
<div class="r" style="left:119px;top:838px;width:426px;height:1px;background:#000"></div>
<div class="r" style="left:119px;top:892px;width:426px;height:1px;background:#000"></div>
<div class="r" style="left:119px;top:945px;width:426px;height:1px;background:#000"></div>
<div class="r" style="left:119px;top:998px;width:426px;height:1px;background:#000"></div>
<div class="r" style="left:119px;top:1200px;width:426px;height:1px;background:#000"></div>
<div class="r" style="left:119px;top:1286px;width:426px;height:1px;background:#000"></div>
<div class="r" style="left:207px;top:15px;width:1px;height:36px;background:#000"></div>
<div class="r" style="left:271px;top:15px;width:1px;height:36px;background:#000"></div>
<div class="r" style="left:339px;top:15px;width:1px;height:36px;background:#000"></div>
<div class="r" style="left:412px;top:15px;width:1px;height:36px;background:#000"></div>
<div class="r" style="left:478px;top:15px;width:1px;height:36px;background:#000"></div>
<div class="r" style="left:207px;top:441px;width:1px;height:35px;background:#000"></div>
<div class="r" style="left:271px;top:441px;width:1px;height:35px;background:#000"></div>
<div class="r" style="left:339px;top:441px;width:1px;height:35px;background:#000"></div>
<div class="r" style="left:412px;top:441px;width:1px;height:35px;background:#000"></div>
<div class="r" style="left:478px;top:441px;width:1px;height:35px;background:#000"></div>
<div class="r" style="left:207px;top:1051px;width:1px;height:36px;background:#000"></div>
<div class="r" style="left:271px;top:1051px;width:1px;height:36px;background:#000"></div>
<div class="r" style="left:339px;top:1051px;width:1px;height:36px;background:#000"></div>
<div class="r" style="left:412px;top:1051px;width:1px;height:36px;background:#000"></div>
<div class="r" style="left:478px;top:1051px;width:1px;height:36px;background:#000"></div>
<div class="r" style="left:478px;top:50px;width:1px;height:33px;background:#000"></div>
<div class="r" style="left:478px;top:475px;width:1px;height:33px;background:#000"></div>
<div class="r" style="left:478px;top:1086px;width:1px;height:52px;background:#000"></div>
<div class="r" style="left:119px;top:82px;width:1px;height:321px;background:#000"></div>
<div class="r" style="left:207px;top:82px;width:1px;height:321px;background:#000"></div>
<div class="r" style="left:271px;top:82px;width:1px;height:321px;background:#000"></div>
<div class="r" style="left:339px;top:82px;width:1px;height:321px;background:#000"></div>
<div class="r" style="left:412px;top:82px;width:1px;height:321px;background:#000"></div>
<div class="r" style="left:478px;top:82px;width:1px;height:321px;background:#000"></div>
<div class="r" style="left:119px;top:507px;width:1px;height:108px;background:#000"></div>
<div class="r" style="left:207px;top:507px;width:1px;height:108px;background:#000"></div>
<div class="r" style="left:271px;top:507px;width:1px;height:108px;background:#000"></div>
<div class="r" style="left:339px;top:507px;width:1px;height:108px;background:#000"></div>
<div class="r" style="left:412px;top:507px;width:1px;height:108px;background:#000"></div>
<div class="r" style="left:478px;top:507px;width:1px;height:108px;background:#000"></div>
<div class="r" style="left:119px;top:1137px;width:1px;height:217px;background:#000"></div>
<div class="r" style="left:207px;top:1137px;width:1px;height:217px;background:#000"></div>
<div class="r" style="left:271px;top:1137px;width:1px;height:217px;background:#000"></div>
<div class="r" style="left:339px;top:1137px;width:1px;height:217px;background:#000"></div>
<div class="r" style="left:412px;top:1137px;width:1px;height:217px;background:#000"></div>
<div class="r" style="left:478px;top:1137px;width:1px;height:217px;background:#000"></div>
<div class="r" style="left:119px;top:645px;width:1px;height:108px;background:#000"></div>
<div class="r" style="left:207px;top:645px;width:1px;height:108px;background:#000"></div>
<div class="r" style="left:271px;top:645px;width:1px;height:108px;background:#000"></div>
<div class="r" style="left:339px;top:645px;width:1px;height:108px;background:#000"></div>
<div class="r" style="left:412px;top:645px;width:1px;height:108px;background:#000"></div>
<div class="r" style="left:478px;top:645px;width:1px;height:108px;background:#000"></div>
<div class="r" style="left:119px;top:785px;width:1px;height:267px;background:#000"></div>
<div class="r" style="left:207px;top:785px;width:1px;height:267px;background:#000"></div>
<div class="r" style="left:271px;top:785px;width:1px;height:267px;background:#000"></div>
<div class="r" style="left:339px;top:785px;width:1px;height:267px;background:#000"></div>
<div class="r" style="left:412px;top:785px;width:1px;height:267px;background:#000"></div>
<div class="r" style="left:478px;top:785px;width:1px;height:267px;background:#000"></div>
<div class="r" style="left:119px;top:614px;width:1px;height:32px;background:#000"></div>
<div class="r" style="left:478px;top:614px;width:1px;height:32px;background:#000"></div>
<div class="r" style="left:119px;top:752px;width:1px;height:34px;background:#000"></div>
<div class="r" style="left:478px;top:752px;width:1px;height:34px;background:#000"></div>
<div class="r" style="left:16px;top:1352px;width:528px;height:1px;background:#dddddd"></div>
</div></body></html>
